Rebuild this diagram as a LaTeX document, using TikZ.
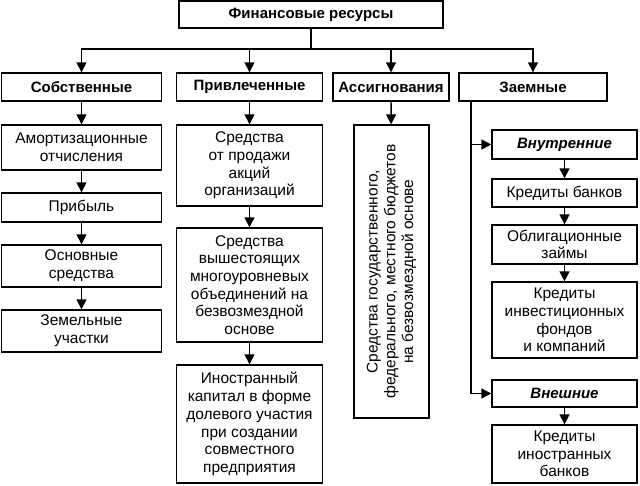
\documentclass[tikz,border=0pt]{standalone}
\usepackage{fontspec}
\setmainfont{Liberation Sans}
\usetikzlibrary{arrows.meta}
\begin{document}
\begin{tikzpicture}[x=1pt,y=-1pt,
 box/.style={draw,line width=1.4pt,align=center,inner sep=1pt,font=\fontsize{15.5}{17.7}\selectfont},
 head/.style={box,font=\fontsize{15}{17.5}\selectfont\bfseries},
 ihead/.style={box,font=\fontsize{15}{17.5}\selectfont\bfseries\itshape},
 arr/.style={line width=1.4pt,-{Triangle[width=10pt,length=10pt]}},
 ln/.style={line width=1.4pt}]
\useasboundingbox (0,0) rectangle (640,485);
% level 1
\node[head,minimum width=264pt,minimum height=27pt] (top) at (311,14.5) {Финансовые ресурсы};
% level 2
\node[head,minimum width=160pt,minimum height=28pt] (sob) at (81.5,87) {Собственные};
\node[head,minimum width=146pt,minimum height=28pt] (priv) at (249.5,87) {Привлеченные};
\node[head,minimum width=116pt,minimum height=28pt] (assig) at (391,87) {Ассигнования};
\node[head,minimum width=148pt,minimum height=28pt] (zaem) at (533,87) {Заемные};
% column 1
\node[box,minimum width=160pt,minimum height=45pt] (a1) at (81.5,147.5) {Амортизационные\\отчисления};
\node[box,minimum width=160pt,minimum height=29pt] (a2) at (81.5,207.5) {Прибыль};
\node[box,minimum width=160pt,minimum height=42pt] (a3) at (81.5,266) {Основные\\средства};
\node[box,minimum width=160pt,minimum height=42pt] (a4) at (81.5,331) {Земельные\\участки};
% column 2
\node[box,minimum width=146pt,minimum height=81pt] (b1) at (249.5,165.5) {Средства\\от продажи\\акций\\организаций};
\node[box,minimum width=146pt,minimum height=114pt] (b2) at (249.5,285) {Средства\\вышестоящих\\многоуровневых\\объединений на\\безвозмездной\\основе};
\node[box,minimum width=146pt,minimum height=118pt] (b3) at (249.5,424) {Иностранный\\капитал в форме\\долевого участия\\при создании\\совместного\\предприятия};
% column 3
\node[box,rotate=90,minimum width=293pt,minimum height=75pt] (c1) at (391.5,271.5) {Средства государственного,\\федерального, местного бюджетов\\на безвозмездной основе};
% column 4
\node[ihead,minimum width=145pt,minimum height=29pt] (d1) at (564.5,144.5) {Внутренние};
\node[box,minimum width=145pt,minimum height=28pt] (d2) at (564.5,193) {Кредиты банков};
\node[box,minimum width=145pt,minimum height=39pt] (d3) at (564.5,244.5) {Облигационные\\займы};
\node[box,minimum width=145pt,minimum height=76pt] (d4) at (564.5,320) {Кредиты\\инвестиционных\\фондов\\и компаний};
\node[ihead,minimum width=145pt,minimum height=27pt] (d5) at (564.5,393.5) {Внешние};
\node[box,minimum width=145pt,minimum height=58pt] (d6) at (564.5,454) {Кредиты\\иностранных\\банков};
% connectors
\coordinate (bus) at (311,49);
\draw[ln] (top) -- (bus);
\draw[arr] (bus) -| (sob);
\draw[arr] (bus) -| (priv);
\draw[arr] (bus) -| (assig);
\draw[arr] (bus) -| (zaem);
\draw[arr] (sob) -- (a1);
\draw[arr] (a1) -- (a2);
\draw[arr] (a2) -- (a3);
\draw[arr] (a3) -- (a4);
\draw[arr] (priv) -- (b1);
\draw[arr] (b1) -- (b2);
\draw[arr] (b2) -- (b3);
\draw[arr] (assig) -- (c1);
\coordinate (zl) at (471,101);
\draw[arr] (zl) |- (d1);
\draw[arr] (zl) |- (d5);
\draw[arr] (d1) -- (d2);
\draw[arr] (d2) -- (d3);
\draw[arr] (d3) -- (d4);
\draw[arr] (d5) -- (d6);
\end{tikzpicture}
\end{document}
